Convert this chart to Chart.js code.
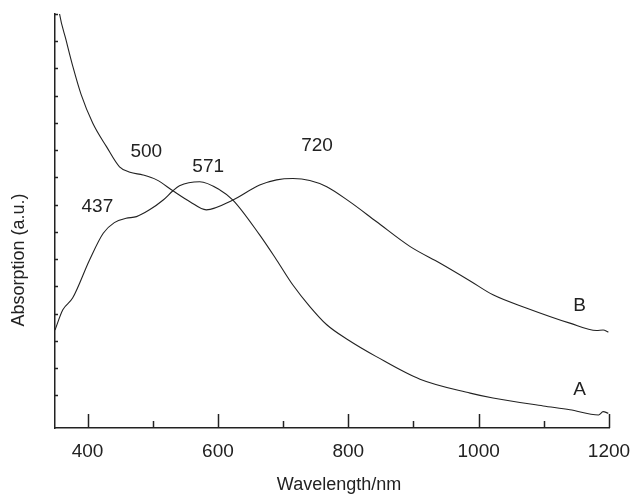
<!DOCTYPE html>
<html>
<head>
<meta charset="utf-8">
<script src="https://cdn.jsdelivr.net/npm/chart.js@4.4.1/dist/chart.umd.min.js"></script>
<style>
  html, body { margin: 0; padding: 0; background: #fff; }
  #wrap { width: 630px; height: 495px; }
</style>
</head>
<body>
<div id="wrap"><canvas id="absChart" width="630" height="495"></canvas></div>
<script>
// curve A: rises to shoulder 437 and peak 571, then falls
const wavelengthA = [350, 362, 377, 403, 424, 441, 459, 475, 495, 516, 531, 541, 572, 603, 623, 664, 690, 715, 741, 767, 800, 843, 910, 987, 1022, 1099, 1140, 1184, 1191, 1199];
const absorbA = [3.40, 4.14, 4.57, 5.97, 6.95, 7.34, 7.50, 7.56, 7.81, 8.17, 8.51, 8.69, 8.84, 8.54, 8.17, 6.89, 5.97, 5.05, 4.26, 3.59, 3.03, 2.42, 1.59, 1.08, 0.90, 0.61, 0.47, 0.28, 0.40, 0.34];

// curve B: steep fall, shoulder 500, dip, peak 720, slow decay
const wavelengthB = [350, 357, 367, 378, 390, 408, 429, 449, 465, 485, 506, 531, 557, 582, 623, 664, 690, 715, 741, 767, 802, 843, 895, 941, 987, 1022, 1074, 1140, 1181, 1191, 1199];
const absorbB = [16.3, 15.0, 14.04, 13.02, 12.05, 10.99, 10.13, 9.39, 9.19, 9.09, 8.91, 8.51, 8.11, 7.81, 8.17, 8.72, 8.91, 8.96, 8.89, 8.66, 8.11, 7.38, 6.46, 5.85, 5.20, 4.69, 4.20, 3.65, 3.38, 3.40, 3.32];

const peakLabels = ["437", "500", "571", "720", "A", "B"];
const peakLabelX = [415, 490, 585, 752, 1155, 1155];
const peakLabelY = [7.92, 9.93, 9.39, 10.17, 1.19, 4.30];

const xTicks = [400, 500, 600, 700, 800, 900, 1000, 1100, 1200];

const FONT = "'Liberation Sans', Arial, sans-serif";
const INK = "#222";

function toPoints(xs, ys) {
  return xs.map((x, i) => ({ x: x, y: ys[i] }));
}

const decorPlugin = {
  id: "decor",
  afterDraw(chart) {
    const ctx = chart.ctx;
    const xs = chart.scales.x;
    const ys = chart.scales.y;
    const area = chart.chartArea;
    ctx.save();
    ctx.strokeStyle = INK;
    ctx.lineWidth = 1.5;

    // x ticks pointing inward, long at labelled values
    xs.ticks.forEach((t) => {
      const px = Math.round(xs.getPixelForValue(t.value)) + 0.5;
      const len = t.value % 200 === 0 ? 14 : 7;
      ctx.beginPath();
      ctx.moveTo(px, area.bottom);
      ctx.lineTo(px, area.bottom - len);
      ctx.stroke();
    });

    // y ticks, short, no labels
    ys.ticks.forEach((t) => {
      if (!Number.isInteger(t.value)) return;
      const py = Math.round(ys.getPixelForValue(t.value)) + 0.5;
      ctx.beginPath();
      ctx.moveTo(area.left, py);
      ctx.lineTo(area.left + 3, py);
      ctx.stroke();
    });

    // annotations
    ctx.fillStyle = INK;
    ctx.font = "19px " + FONT;
    ctx.textAlign = "center";
    ctx.textBaseline = "middle";
    peakLabels.forEach((txt, i) => {
      ctx.fillText(txt, xs.getPixelForValue(peakLabelX[i]), ys.getPixelForValue(peakLabelY[i]));
    });

    // axis titles
    ctx.font = "18px " + FONT;
    ctx.fillText("Wavelength/nm", (area.left + area.right) / 2 + 7, 485);
    ctx.translate(19, 260);
    ctx.rotate(-Math.PI / 2);
    ctx.fillText("Absorption (a.u.)", 0, 0);
    ctx.restore();
  }
};

const lineStyle = {
  borderColor: INK,
  borderWidth: 1.1,
  pointRadius: 0,
  fill: false,
  cubicInterpolationMode: "monotone"
};

new Chart(document.getElementById("absChart"), {
  type: "line",
  data: {
    datasets: [
      Object.assign({ label: "A", data: toPoints(wavelengthA, absorbA) }, lineStyle),
      Object.assign({ label: "B", data: toPoints(wavelengthB, absorbB) }, lineStyle)
    ]
  },
  options: {
    responsive: false,
    animation: false,
    layout: { padding: { top: 14, right: 21, left: 0, bottom: 0 } },
    plugins: { legend: { display: false }, tooltip: { enabled: false } },
    scales: {
      x: {
        type: "linear",
        min: 350,
        max: 1200,
        afterBuildTicks(scale) {
          scale.ticks = xTicks.map((v) => ({ value: v }));
        },
        afterFit(scale) {
          scale.height = 67;
          scale.paddingLeft = 0;
          scale.paddingRight = 0;
        },
        grid: { display: false, drawTicks: false },
        border: { display: true, color: INK, width: 1.5 },
        ticks: {
          autoSkip: false,
          maxRotation: 0,
          padding: 12,
          color: INK,
          font: { size: 19, family: FONT },
          callback: (v) => (v % 200 === 0 ? String(v) : "")
        }
      },
      y: {
        type: "linear",
        min: -0.2,
        max: 15,
        ticks: { display: false, stepSize: 1 },
        afterFit(scale) {
          scale.width = 55;
          scale.paddingTop = 0;
          scale.paddingBottom = 0;
        },
        grid: { display: false, drawTicks: false },
        border: { display: true, color: INK, width: 1.5 }
      }
    }
  },
  plugins: [decorPlugin]
});
</script>
</body>
</html>
